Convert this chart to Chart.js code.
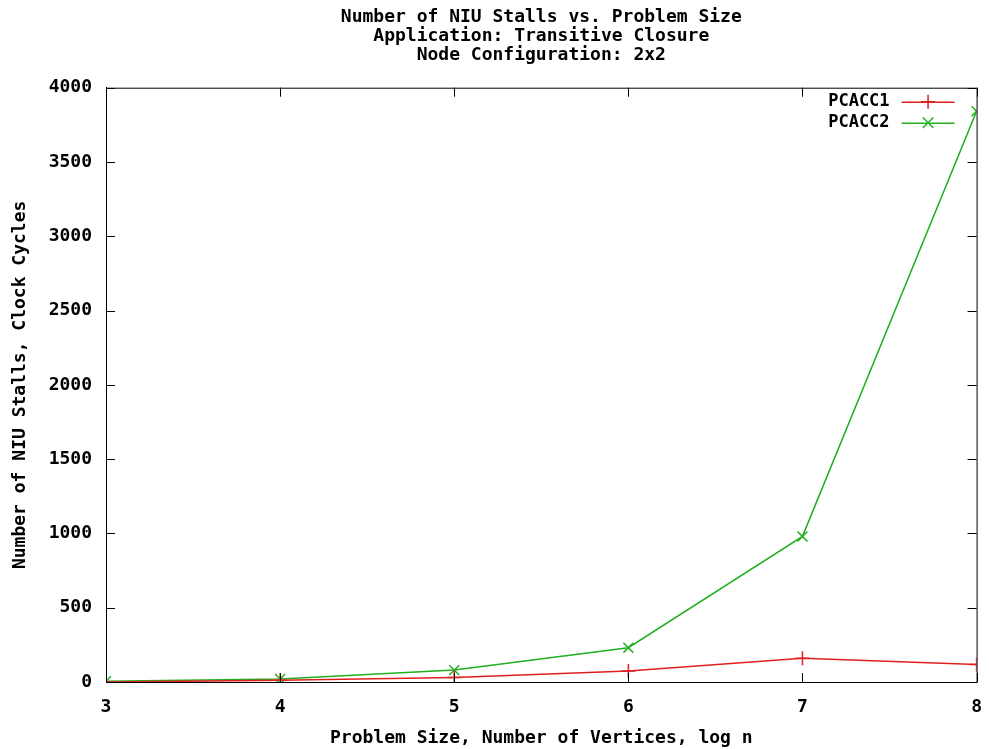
<!DOCTYPE html>
<html>
<head>
<meta charset="utf-8">
<script src="https://cdn.jsdelivr.net/npm/chart.js@4"></script>
<style>
  body { margin: 0; background: #fff; }
</style>
</head>
<body>
<canvas id="c" width="989" height="749"></canvas>
<script>
// values
const sizes = [3, 4, 5, 6, 7, 8];
const pcacc1 = [0, 11, 31, 74, 160, 118];
const pcacc2 = [5, 20, 80, 231, 980, 3842];
const titleLines = [
  "Number of NIU Stalls vs. Problem Size",
  "Application: Transitive Closure",
  "Node Configuration: 2x2",
];

const monoBold = { family: "'DejaVu Sans Mono', monospace", size: 18, weight: "bold" };

// gnuplot style: box all round + ticks pointing inward on every side
const frame = {
  id: "frame",
  afterDraw(chart) {
    const ctx = chart.ctx;
    const a = chart.chartArea;
    ctx.save();
    ctx.strokeStyle = "#000";
    ctx.lineWidth = 1;
    ctx.strokeRect(a.left + 0.5, a.top + 0.5, a.right - a.left, a.bottom - a.top);
    const len = 9;
    ctx.beginPath();
    chart.scales.x.ticks.forEach((t) => {
      const px = Math.round(chart.scales.x.getPixelForValue(t.value)) + 0.5;
      ctx.moveTo(px, a.bottom);
      ctx.lineTo(px, a.bottom - len);
      ctx.moveTo(px, a.top);
      ctx.lineTo(px, a.top + len);
    });
    chart.scales.y.ticks.forEach((t) => {
      const py = Math.round(chart.scales.y.getPixelForValue(t.value)) + 0.5;
      ctx.moveTo(a.left, py);
      ctx.lineTo(a.left + len, py);
      ctx.moveTo(a.right, py);
      ctx.lineTo(a.right - len, py);
    });
    ctx.stroke();

    // key in the top right corner
    ctx.font = "bold 17px 'DejaVu Sans Mono', monospace";
    ctx.textAlign = "right";
    ctx.textBaseline = "middle";
    ctx.lineWidth = 1.5;
    chart.data.datasets.forEach((ds, i) => {
      const y = a.top + 14 + i * 21;
      const x1 = a.right - 75;
      const x2 = a.right - 22;
      ctx.fillStyle = "#000";
      ctx.fillText(ds.label, x1 - 12, y);
      ctx.strokeStyle = ds.borderColor;
      ctx.beginPath();
      ctx.moveTo(x1, y + 0.5);
      ctx.lineTo(x2, y + 0.5);
      ctx.stroke();
      const cx = (x1 + x2) / 2;
      const r = 7;
      ctx.beginPath();
      if (ds.pointStyle === "cross") {
        ctx.moveTo(cx, y - r);
        ctx.lineTo(cx, y + r);
        ctx.moveTo(cx - r, y);
        ctx.lineTo(cx + r, y);
      } else {
        const d = r * 0.75;
        ctx.moveTo(cx - d, y - d);
        ctx.lineTo(cx + d, y + d);
        ctx.moveTo(cx - d, y + d);
        ctx.lineTo(cx + d, y - d);
      }
      ctx.stroke();
    });
    ctx.restore();
  },
};

new Chart(document.getElementById("c"), {
  type: "line",
  data: {
    datasets: [
      {
        label: "PCACC1",
        data: sizes.map((s, i) => ({ x: s, y: pcacc1[i] })),
        borderColor: "#e02020",
        backgroundColor: "#e02020",
        borderWidth: 1.5,
        pointStyle: "cross",
        pointRadius: 7,
        pointBorderWidth: 1.5,
        tension: 0,
      },
      {
        label: "PCACC2",
        data: sizes.map((s, i) => ({ x: s, y: pcacc2[i] })),
        borderColor: "#20b020",
        backgroundColor: "#20b020",
        borderWidth: 1.5,
        pointStyle: "crossRot",
        pointRadius: 7,
        pointBorderWidth: 1.5,
        tension: 0,
      },
    ],
  },
  options: {
    responsive: false,
    animation: false,
    layout: { padding: { top: 8, right: 7, left: 0, bottom: 0 } },
    plugins: {
      legend: { display: false },
      tooltip: { enabled: false },
      title: {
        display: true,
        fullSize: false,
        text: titleLines,
        color: "#000",
        font: { family: "'DejaVu Sans Mono', monospace", size: 18, weight: "bold", lineHeight: 1.05 },
        padding: { top: 0, bottom: 23 },
      },
    },
    scales: {
      x: {
        type: "linear",
        min: 3,
        max: 8,
        grid: { display: false },
        border: { display: true, color: "#000" },
        ticks: { stepSize: 1, color: "#000", font: monoBold, padding: 7 },
        title: {
          display: true,
          text: "Problem Size, Number of Vertices, log n",
          color: "#000",
          font: monoBold,
          padding: { top: 6, bottom: 0 },
        },
        afterFit(scale) { scale.height = 749 - 682; },
      },
      y: {
        min: 0,
        max: 4000,
        grid: { display: false },
        border: { display: true, color: "#000" },
        ticks: {
          stepSize: 500,
          color: "#000",
          font: monoBold,
          padding: 6,
          callback: (v) => String(v),
        },
        title: {
          display: true,
          text: "Number of NIU Stalls, Clock Cycles",
          color: "#000",
          font: monoBold,
          padding: { top: 10, bottom: 0 },
        },
        afterFit(scale) { scale.width = 106; },
      },
    },
  },
  plugins: [frame],
});
</script>
</body>
</html>
